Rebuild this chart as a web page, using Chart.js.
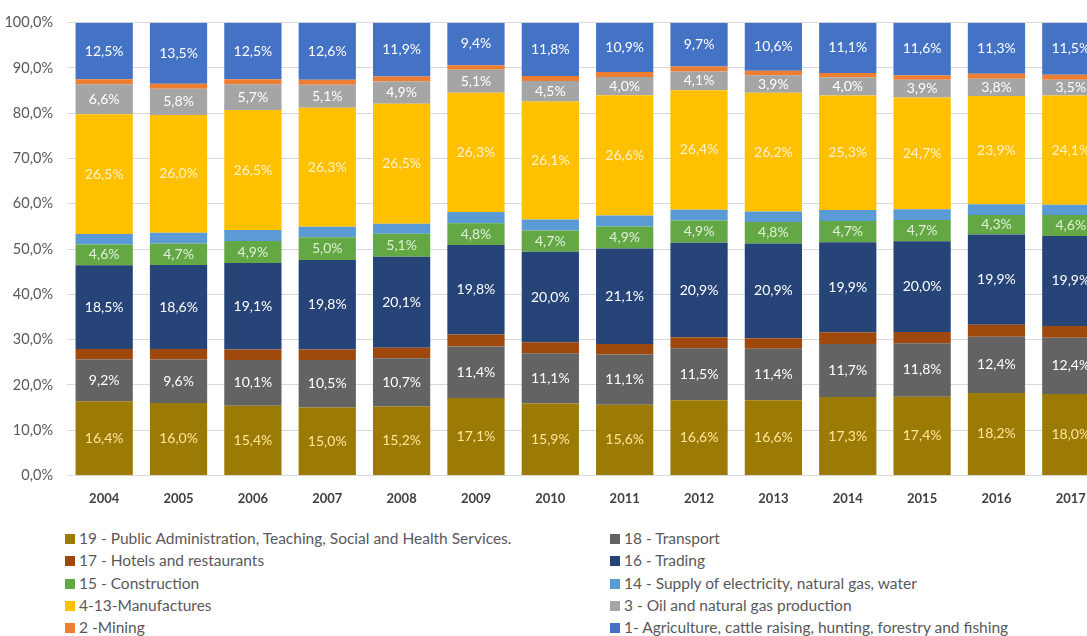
<!DOCTYPE html>
<html>
<head>
<meta charset="utf-8">
<script src="https://cdn.jsdelivr.net/npm/chart.js@4.4.1/dist/chart.umd.min.js"></script>
<style>
  html, body { margin: 0; padding: 0; background: #fff; overflow: hidden; }
  #wrap { position: relative; width: 1087px; height: 636px; overflow: hidden; }
  #chart { position: absolute; left: 0; top: 0; }
  .leg { position: absolute; font-family: Lato, sans-serif; font-size: 15.5px; color: #595959; white-space: nowrap; line-height: 18px; }
  .leg span.box { display: inline-block; width: 10px; height: 10px; margin-right: 4px; vertical-align: 0px; }
</style>
</head>
<body>
<div id="wrap">
  <canvas id="chart" width="1108" height="515"></canvas>
  <div id="legend"></div>
</div>
<script>
const years = ["2004","2005","2006","2007","2008","2009","2010","2011","2012","2013","2014","2015","2016","2017"];

// values in %, bottom of the stack first
const publicAdmin  = [16.4,16.0,15.4,15.0,15.2,17.1,15.9,15.6,16.6,16.6,17.3,17.4,18.2,18.0];
const transport    = [9.2,9.6,10.1,10.5,10.7,11.4,11.1,11.1,11.5,11.4,11.7,11.8,12.4,12.4];
const hotels       = [2.3,2.3,2.3,2.3,2.3,2.6,2.4,2.3,2.4,2.3,2.6,2.5,2.7,2.6];
const trading      = [18.5,18.6,19.1,19.8,20.1,19.8,20.0,21.1,20.9,20.9,19.9,20.0,19.9,19.9];
const construction = [4.6,4.7,4.9,5.0,5.1,4.8,4.7,4.9,4.9,4.8,4.7,4.7,4.3,4.6];
const supply       = [2.3,2.4,2.4,2.3,2.2,2.5,2.4,2.4,2.4,2.3,2.4,2.4,2.4,2.3];
const manufactures = [26.5,26.0,26.5,26.3,26.5,26.3,26.1,26.6,26.4,26.2,25.3,24.7,23.9,24.1];
const oilGas       = [6.6,5.8,5.7,5.1,4.9,5.1,4.5,4.0,4.1,3.9,4.0,3.9,3.8,3.5];
const mining       = [1.1,1.1,1.1,1.1,1.1,1.0,1.1,1.1,1.1,1.0,1.0,1.0,1.1,1.1];
const agriculture  = [12.5,13.5,12.5,12.6,11.9,9.4,11.8,10.9,9.7,10.6,11.1,11.6,11.3,11.5];

const seriesNames = [
  "19 - Public Administration, Teaching, Social and Health Services.",
  "18 - Transport",
  "17 - Hotels and restaurants",
  "16 - Trading",
  "15 - Construction",
  "14 - Supply of electricity, natural gas, water",
  "4-13-Manufactures",
  "3 - Oil and natural gas production",
  "2 -Mining",
  "1- Agriculture, cattle raising, hunting, forestry and fishing"
];
const seriesValues = [publicAdmin, transport, hotels, trading, construction, supply, manufactures, oilGas, mining, agriculture];
const seriesColors = ["#9c7a06","#636363","#9e480e","#264478","#63a845","#5b9bd5","#ffc000","#a5a5a5","#ed7d31","#4472c4"];
// colour of the value labels, null = no labels
const labelColors  = ["#ffe699","#ffffff",null,"#ffffff","#e2efda",null,"#fff2cc","#ffffff",null,"#ffffff"];

const fmt = v => v.toFixed(1).replace(".", ",") + "%";

const valueLabels = {
  id: "valueLabels",
  afterDatasetsDraw(chart) {
    const ctx = chart.ctx;
    ctx.save();
    ctx.font = "14px Lato, sans-serif";
    ctx.textAlign = "center";
    ctx.textBaseline = "middle";
    chart.data.datasets.forEach((ds, di) => {
      if (!ds.labelColor) return;
      const meta = chart.getDatasetMeta(di);
      meta.data.forEach((bar, i) => {
        ctx.fillStyle = ds.labelColor;
        ctx.fillText(fmt(ds.data[i]), bar.x, (bar.y + bar.base) / 2);
      });
    });
    ctx.restore();
  }
};

new Chart(document.getElementById("chart"), {
  type: "bar",
  data: {
    labels: years,
    datasets: seriesNames.map((name, i) => ({
      label: name,
      data: seriesValues[i],
      backgroundColor: seriesColors[i],
      labelColor: labelColors[i],
      barPercentage: 0.77,
      categoryPercentage: 1.0
    }))
  },
  options: {
    responsive: false,
    animation: false,
    layout: { padding: { top: 15, right: 0, left: 0, bottom: 0 } },
    plugins: { legend: { display: false }, tooltip: { enabled: false } },
    scales: {
      x: {
        stacked: true,
        grid: { display: false },
        border: { display: true, color: "#d9d9d9" },
        ticks: { color: "#404040", font: { family: "Lato", size: 13, weight: "bold" }, padding: 8 }
      },
      y: {
        stacked: true,
        min: 0,
        max: 100,
        afterFit(scale) { scale.width = 67; },
        grid: { color: "#d9d9d9", drawTicks: false },
        border: { display: false },
        ticks: {
          stepSize: 10,
          padding: 14,
          color: "#595959",
          font: { family: "Lato", size: 14.5 },
          callback: v => fmt(v)
        }
      }
    }
  },
  plugins: [valueLabels]
});

// two-column legend, same order as the stack
const legend = document.getElementById("legend");
const rowTops = [529, 551, 574, 596, 618];
seriesNames.forEach((name, i) => {
  const el = document.createElement("div");
  el.className = "leg";
  el.style.left = (i % 2 === 0 ? 65 : 610) + "px";
  el.style.top = rowTops[Math.floor(i / 2)] + "px";
  el.innerHTML = '<span class="box" style="background:' + seriesColors[i] + '"></span>';
  el.appendChild(document.createTextNode(name));
  legend.appendChild(el);
});
</script>
</body>
</html>
